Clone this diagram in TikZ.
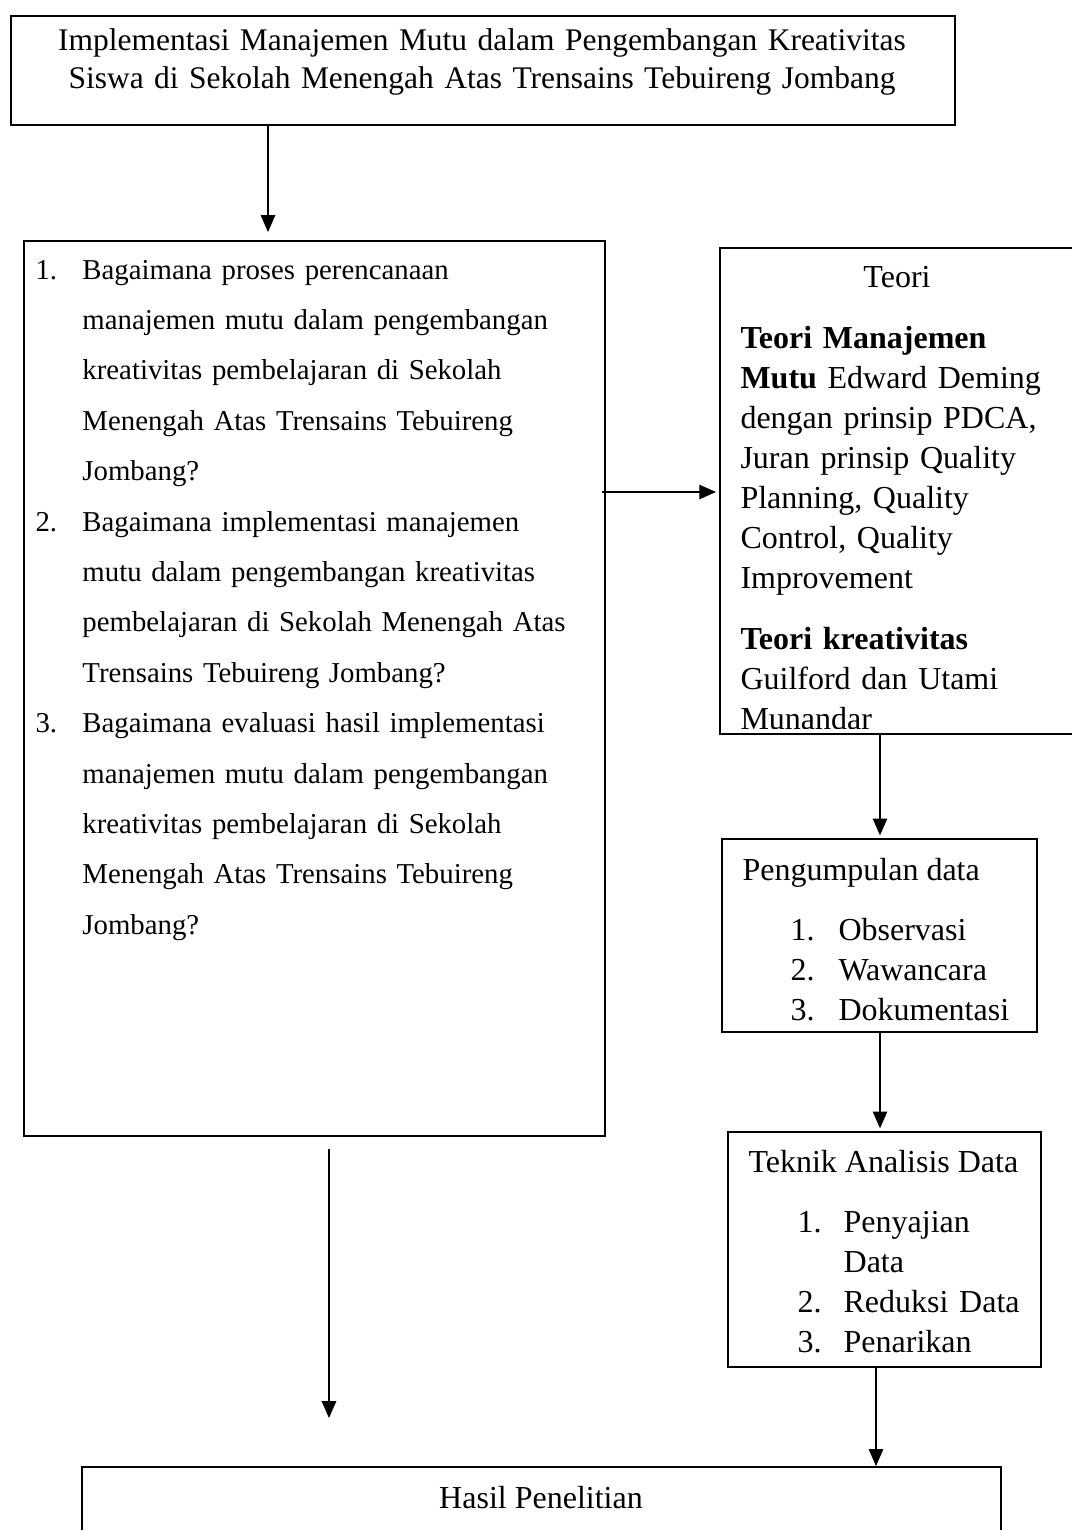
\documentclass[tikz,border=0pt]{standalone}
\usepackage{fontspec}
\setmainfont{Liberation Serif}
\usetikzlibrary{arrows.meta}

\newcommand{\nomor}[1]{\makebox[17.6pt][l]{#1}}
\newcommand{\lanjut}{\hspace*{17.6pt}}

\begin{document}
\begin{tikzpicture}
  [
    x=0.375pt, y=-0.375pt,
    >={Triangle[length=6.3pt,width=5.4pt]},
    box/.style = {draw, line width=0.7pt, inner sep=0pt, anchor=north west},
    arr/.style = {->, line width=0.5pt},
    isi/.style = {inner sep=0pt, anchor=base west, align=left, font=\fontsize{12}{15}\selectfont},
  ]

\def\u{0.375pt}

%Page of the reference
\useasboundingbox (0,0) rectangle (1072,1530);
\clip (0,0) rectangle (1072,1530);

%Boxes
\node[box, minimum width=944*\u, minimum height=109*\u] (judul) at (10,15) {};
\node[box, minimum width=581*\u, minimum height=895*\u] (masalah) at (23,240) {};
\node[box, minimum width=356*\u, minimum height=486*\u] (teori) at (719,247) {};
\node[box, minimum width=315*\u, minimum height=193*\u] (data) at (721,838) {};
\node[box, minimum width=313*\u, minimum height=235*\u] (analisis) at (727,1131) {};
\node[box, minimum width=919*\u, minimum height=120*\u] (hasil) at (81,1466) {};

%Title
\node[isi, anchor=base, text width=940*\u, align=center, font=\fontsize{11.8}{14.5}\selectfont] (judul-teks) at (482,50)
  {Implementasi Manajemen Mutu dalam Pengembangan Kreativitas\\
   Siswa di Sekolah Menengah Atas Trensains Tebuireng Jombang};

%Research questions
\node[isi, text width=570*\u, font=\fontsize{10.8}{18.9}\selectfont] (masalah-teks) at (35,279)
  {\nomor{1.}Bagaimana proses perencanaan\\
   \lanjut manajemen mutu dalam pengembangan\\
   \lanjut kreativitas pembelajaran di Sekolah\\
   \lanjut Menengah Atas Trensains Tebuireng\\
   \lanjut Jombang?\\
   \nomor{2.}Bagaimana implementasi manajemen\\
   \lanjut mutu dalam pengembangan kreativitas\\
   \lanjut pembelajaran di Sekolah Menengah Atas\\
   \lanjut Trensains Tebuireng Jombang?\\
   \nomor{3.}Bagaimana evaluasi hasil implementasi\\
   \lanjut manajemen mutu dalam pengembangan\\
   \lanjut kreativitas pembelajaran di Sekolah\\
   \lanjut Menengah Atas Trensains Tebuireng\\
   \lanjut Jombang?};

%Theory
\node[isi, anchor=base] (teori-judul) at (897,287) {Teori};
\begin{scope}
\clip (teori.north west) rectangle ([yshift=2.3pt]teori.south east);
\node[isi, text width=330*\u] (teori-teks) at (740,348)
  {\textbf{Teori Manajemen}\\
   \textbf{Mutu} Edward Deming\\
   dengan prinsip PDCA,\\
   Juran prinsip Quality\\
   Planning, Quality\\
   Control, Quality\\
   Improvement\par\vspace{7.9pt}
   \textbf{Teori kreativitas}\\
   Guilford dan Utami\\
   Munandar};
\end{scope}

%Data collection
\node[isi] (data-judul) at (742,880) {Pengumpulan data};
\node[isi, text width=240*\u] (data-teks) at (790,940)
  {\makebox[18pt][l]{1.}Observasi\\
   \makebox[18pt][l]{2.}Wawancara\\
   \makebox[18pt][l]{3.}Dokumentasi};

%Analysis
\node[isi] (analisis-judul) at (748,1172) {Teknik Analisis Data};
\node[isi, text width=240*\u] (analisis-teks) at (797,1232)
  {\makebox[17.3pt][l]{1.}Penyajian\\
   \hspace*{17.3pt}Data\\
   \makebox[17.3pt][l]{2.}Reduksi Data\\
   \makebox[17.3pt][l]{3.}Penarikan};

%Result
\node[isi, anchor=base] (hasil-teks) at (541,1508) {Hasil Penelitian};

%Arrows
\coordinate (ujung) at (329,1418);
\draw[arr, shorten >=3pt] (judul.south -| 268,0) -- (masalah.north -| 268,0);
\draw[arr, shorten <=-1.5pt, shorten >=1.1pt] (masalah.east |- 0,492) -- (teori.west |- 0,492);
\draw[arr, shorten >=1pt] (teori.south -| 880,0) -- (data.north -| 880,0);
\draw[arr, shorten >=1pt] (data.south -| 880,0) -- (analisis.north -| 880,0);
\draw[arr] (analisis.south -| 876,0) -- (hasil.north -| 876,0);
\draw[arr, shorten <=4.5pt] (masalah.south -| ujung) -- (ujung);
\end{tikzpicture}
\end{document}
